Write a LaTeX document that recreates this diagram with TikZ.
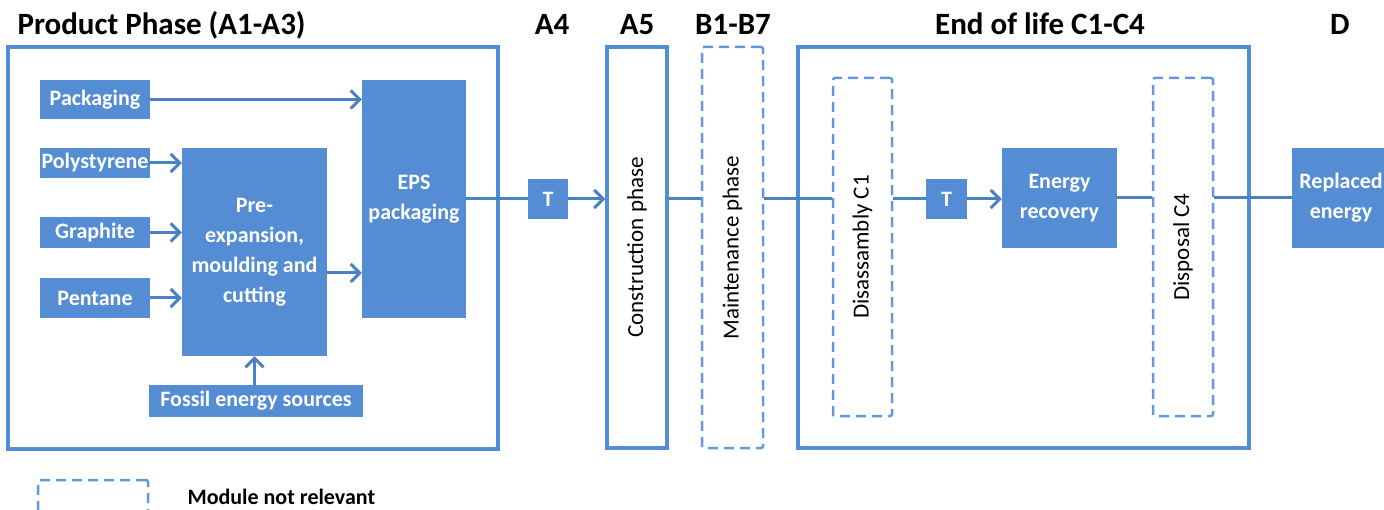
\documentclass[tikz,border=0pt]{standalone}
\usepackage{fontspec}
\setmainfont{Carlito}
\usetikzlibrary{arrows.meta}
\definecolor{boxblue}{RGB}{84,141,212}
\definecolor{lineblue}{RGB}{74,128,196}
\definecolor{dashblue}{RGB}{98,152,220}
\newcommand{\boxfont}{\fontsize{22}{30}\selectfont\bfseries}
\newcommand{\headfont}{\fontsize{31}{36}\selectfont\bfseries}
\newcommand{\sidefont}{\fontsize{23}{27}\selectfont}
\tikzset{
    block/.style={fill=boxblue, text=white, inner sep=0pt, align=center, font=\boxfont},
    frame/.style={draw=boxblue, line width=3.5pt, inner sep=0pt},
    dashframe/.style={draw=dashblue, line width=2.5pt, dash pattern=on 10pt off 6pt, rounded corners=2pt, inner sep=0pt},
    sidelabel/.style={label={[rotate=90, font=\sidefont]center:#1}},
    flow/.style={draw=lineblue, line width=3pt},
    flowarrow/.style={flow, -{Straight Barb[length=9pt,width=18pt]}},
    phase/.style={font=\headfont, anchor=base}
}

\begin{document}
\begin{tikzpicture}[x=1pt, y=-1pt]
    \useasboundingbox (0,0) rectangle (1384,510);
    \node[phase, anchor=base west] (ttlprod) at (14,35) {Product Phase (A1-A3)};
    \node[phase] (ttlafour) at (552,35) {A4};
    \node[phase] (ttlafive) at (637,35) {A5};
    \node[phase] (ttlb) at (733,35) {B1-B7};
    \node[phase] (ttleol) at (1040,35) {End of life C1-C4};
    \node[phase] (ttld) at (1340,35) {D};
    \node[frame, minimum width=490pt, minimum height=402pt](prod) at (253,248){};
    \node[frame, minimum width=451pt, minimum height=401pt](eol) at (1023.5,247.5){};
    \node[block, minimum width=110pt, minimum height=39pt](pack) at (95,99.5){Packaging};
    \node[block, minimum width=110pt, minimum height=30pt](poly) at (95,163){Polystyrene};
    \node[block, minimum width=110pt, minimum height=31pt](graph) at (95,232.5){Graphite};
    \node[block, minimum width=110pt, minimum height=40pt](pent) at (95,298){Pentane};
    \node[block, minimum width=145pt, minimum height=208pt](pre) at (254.5,252){Pre-\\expansion,\\moulding and\\cutting};
    \node[block, minimum width=104pt, minimum height=238pt](eps) at (414,199){EPS\\packaging};
    \node[block, minimum width=214pt, minimum height=32pt](fossil) at (256,401){Fossil energy sources};
    \node[block, minimum width=40pt, minimum height=40pt](tone) at (548,199){T};
    \node[frame, minimum width=60pt, minimum height=401pt, sidelabel=Construction phase](cons) at (637,247.5){};
    \node[dashframe, minimum width=61pt, minimum height=401pt, sidelabel=Maintenance phase](maint) at (732.5,247.5){};
    \node[dashframe, minimum width=59pt, minimum height=338pt, sidelabel=Disassambly C1](dis) at (862.5,247){};
    \node[block, minimum width=41pt, minimum height=40pt](ttwo) at (946.5,199){T};
    \node[block, minimum width=115pt, minimum height=100pt](energy) at (1059.5,198){Energy\\recovery};
    \node[dashframe, minimum width=60pt, minimum height=338pt, sidelabel=Disposal C4](disp) at (1183,247){};
    \node[block, minimum width=98pt, minimum height=100pt](repl) at (1341,198){Replaced\\energy};
    \node[dashframe, minimum width=110pt, minimum height=40pt](legbox) at (93,500){};
    \node[font=\boxfont, anchor=west](legtext) at (184,497){Module not relevant};
    \draw[flowarrow](pack.east) -- (pack -| eps.west);
    \draw[flowarrow](poly.east) -- (poly -| pre.west);
    \draw[flowarrow](graph.east) -- (graph -| pre.west);
    \draw[flowarrow](pent.east) -- (pent -| pre.west);
    \draw[flowarrow]([yshift=-21pt]pre.east) -- ([yshift=-21pt]pre.east -| eps.west);
    \draw[flowarrow](fossil.north -| pre.south) -- (pre.south);
    \draw[flow](eps.east) -- (tone.west);
    \draw[flowarrow](tone.east) -- (tone -| cons.west);
    \draw[flow](tone -| cons.east) -- (tone -| maint.west);
    \draw[flow](tone -| maint.east) -- (tone -| dis.west);
    \draw[flow](ttwo -| dis.east) -- (ttwo.west);
    \draw[flowarrow](ttwo.east) -- (ttwo -| energy.west);
    \draw[flow](energy.east) -- (energy -| disp.west);
    \draw[flow](repl -| disp.east) -- (repl.west);
\end{tikzpicture}
\end{document}
